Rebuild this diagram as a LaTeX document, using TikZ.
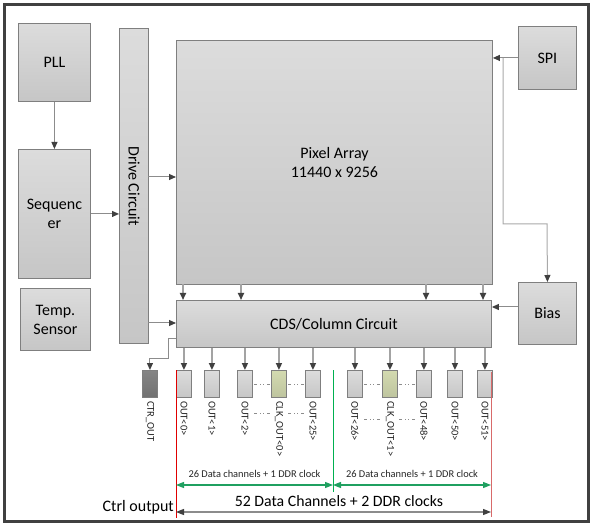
\documentclass[tikz,border=0pt]{standalone}
\usepackage{fontspec}
\setmainfont{Carlito}
\usetikzlibrary{arrows.meta,calc}
\definecolor{frame}{HTML}{404040}
\definecolor{bord}{HTML}{7F7F7F}
\definecolor{btop}{HTML}{DCDCDC}
\definecolor{bbot}{HTML}{C6C6C6}
\definecolor{ln}{HTML}{8C8C8C}
\definecolor{tip}{HTML}{404040}
\definecolor{clkfill}{HTML}{D3DAB0}
\definecolor{ctrfill}{HTML}{858585}
\definecolor{grn}{HTML}{00B050}
\definecolor{grnl}{HTML}{1FA060}
\definecolor{redl}{HTML}{E00000}
\definecolor{redr}{HTML}{D86A6A}
\tikzset{
  blk/.style={draw=bord, line width=0.9pt, top color=btop, bottom color=bbot,
    anchor=north west, inner sep=0pt, align=center, font=\fontsize{16}{19}\selectfont},
  outbox/.style={draw=bord, line width=0.9pt, top color=btop, bottom color=bbot,
    anchor=north west, inner sep=0pt, minimum width=15pt, minimum height=27pt},
  conn/.style={draw=ln, line width=1pt, -{Triangle[length=7pt,width=6pt,color=tip]}},
  connl/.style={draw=ln!80, line width=1.6pt, -{Triangle[length=7pt,width=6pt,color=tip]}},
  olab/.style={rotate=-90, anchor=west, inner sep=0pt, font=\fontsize{10.5}{12}\selectfont, text=black!85},
  dd/.style={draw=ln, line width=0.8pt, dash pattern=on 3pt off 3pt on 1pt off 2pt on 1pt off 3pt on 3pt},
}
\begin{document}
\begin{tikzpicture}[x=1pt,y=-1pt]
\useasboundingbox (0,0) rectangle (597,529);
\fill[white] (0,0) rectangle (597,529);
\draw[frame, line width=3pt] (4,5) rectangle (588,521);

% blocks
\node[blk, minimum width=72pt, minimum height=78pt] (pll) at (18,23) {PLL};
\node[blk, minimum width=72pt, minimum height=129pt] (seq) at (18,149) {Sequenc\\er};
\node[blk, minimum width=70pt, minimum height=62pt] (temp) at (20,288) {Temp.\\Sensor};
\node[blk, minimum width=29pt, minimum height=315pt] (drv) at (119,28) {};
\node[rotate=-90, font=\fontsize{16}{19}\selectfont] (drvlab) at (drv.center) {Drive Circuit};
\node[blk, minimum width=316pt, minimum height=244pt] (pix) at (176,40) {Pixel Array\\11440 x 9256};
\node[blk, minimum width=58pt, minimum height=63pt] (spi) at (518,26) {SPI};
\node[blk, minimum width=58pt, minimum height=62pt] (bias) at (518,282) {Bias};
\node[blk, minimum width=315pt, minimum height=47pt] (cds) at (176,300) {CDS/Column Circuit};

% output boxes
\node[outbox, fill=ctrfill, top color=ctrfill, bottom color=ctrfill!85!black] (ctr) at (142,370) {};
\node[outbox] (o0) at (176,370) {};
\node[outbox] (o1) at (204,370) {};
\node[outbox] (o2) at (237,370) {};
\node[outbox, top color=clkfill, bottom color=clkfill!90!black] (c0) at (271,370) {};
\node[outbox] (o25) at (305,370) {};
\node[outbox] (o26) at (347,370) {};
\node[outbox, top color=clkfill, bottom color=clkfill!90!black] (c1) at (382,370) {};
\node[outbox] (o48) at (416,370) {};
\node[outbox] (o50) at (447,370) {};
\node[outbox] (o51) at (477,370) {};

% labels under output boxes
\foreach \n/\t in {ctr/CTR\_OUT, o0/OUT<0>, o1/OUT<1>, o2/OUT<2>, c0/CLK\_OUT<0>, o25/OUT<25>,
  o26/OUT<26>, c1/CLK\_OUT<1>, o48/OUT<48>, o50/OUT<50>, o51/OUT<51>}
  \node[olab] (l\n) at ($(\n.south)+(0,3)$) {\t};

% connectors
\draw[conn] (pll.south) -- (seq.north);
\draw[conn] (seq.east) -- (seq.east -| drv.west);
\coordinate (dp) at (148,177);
\draw[conn] (dp) -- (dp -| pix.west);
\coordinate (dc) at (148,323);
\draw[conn] (dc) -- (dc -| cds.west);
\draw[conn] (spi.west) -- (spi.west -| pix.east);
\coordinate (sb) at (503,58);
\draw[conn, draw=ln!75] (sb) -- (503,224) -- (547,224) -- (bias.north);
\coordinate (bc) at (518,307);
\draw[conn] (bc) -- (bc -| cds.east);
\foreach \x in {183,241,426,483}
  \draw[connl] (\x,284) -- (\x,300);
\coordinate (cc) at (176,338);
\draw[conn] (cc) -- (168,338) -- (168,358) -- (ctr.north |- 0,358) -- (ctr.north);
\foreach \n in {o0,o1,o2,c0,o25,o26,c1,o48,o50,o51}
  \draw[connl] (\n.north |- cds.south) -- (\n.north);

% dash-dot continuation marks
\draw[dd] (254,384) -- (270,384);
\draw[dd] (288,384) -- (304,384);
\draw[dd] (364,384) -- (381,384);
\draw[dd] (399,384) -- (415,384);
\draw[dd] (254,413) -- (270,413);
\draw[dd] (288,413) -- (304,413);
\draw[dd] (364,419) -- (381,419);
\draw[dd] (399,419) -- (415,419);

% vertical marker lines
\draw[redl, line width=1pt] (176,370) -- (176,518);
\draw[redr, line width=1pt] (491.5,372) -- (491.5,517);
\draw[grn, line width=1pt] (333,370) -- (333,492);

% dimension arrows
\coordinate (g0) at (176,485);
\coordinate (g1) at (333,485);
\coordinate (g2) at (491,485);
\draw[grnl, line width=1.2pt, {Triangle[length=8pt,width=6pt]}-{Triangle[length=8pt,width=6pt]}] (g0) -- (g1);
\draw[grnl, line width=1.2pt, {Triangle[length=8pt,width=6pt]}-{Triangle[length=8pt,width=6pt]}] (g1) -- (g2);
\node[font=\fontsize{10.4}{12}\selectfont, text=black!85] (t1) at (254.5,474) {26 Data channels + 1 DDR clock};
\node[font=\fontsize{10.4}{12}\selectfont, text=black!85] (t2) at (412,474) {26 Data channels + 1 DDR clock};
\coordinate (k0) at (176,512);
\coordinate (k1) at (491,512);
\draw[ln, line width=1.2pt, {Triangle[length=8pt,width=6pt,color=tip]}-{Triangle[length=8pt,width=6pt,color=tip]}] (k0) -- (k1);
\node[font=\fontsize{15.8}{18}\selectfont] (t3) at (339,501) {52 Data Channels + 2 DDR clocks};
\node[font=\fontsize{16}{19}\selectfont, anchor=east, inner sep=1pt] (t4) at (175,507) {Ctrl output};
\end{tikzpicture}
\end{document}
